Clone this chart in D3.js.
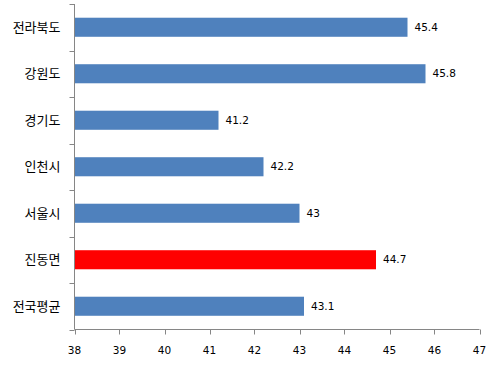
<!DOCTYPE html>
<html><head><meta charset="utf-8">
<script src="https://cdn.jsdelivr.net/npm/d3@7"></script>
<style>body{margin:0;background:#fff}svg{display:block}</style>
</head><body>
<script>
const categories = ["전라북도","강원도","경기도","인천시","서울시","진동면","전국평균"];
const values = [45.4,45.8,41.2,42.2,43,44.7,43.1];
const highlight = ["진동면"];
const xTicks = [38,39,40,41,42,43,44,45,46,47];

(function(){
const W=500,H=367;
const svg=d3.select("body").append("svg").attr("width",W).attr("height",H);
const mL=74.5, mR=479.5, mT=4, mB=329.5;
const x=d3.scaleLinear().domain([38,47]).range([mL,mR]);
const y=d3.scaleBand().domain(categories).range([mT,mB]).paddingInner(0.59).paddingOuter(0.295);
const yb=d3.scaleBand().domain(categories).range([mT,mB]);

svg.selectAll("rect.bar").data(categories).enter().append("rect")
 .attr("x",x(38)).attr("y",d=>y(d)).attr("height",y.bandwidth())
 .attr("width",(d,i)=>x(values[i])-x(38))
 .attr("fill",d=>highlight.includes(d)?"#FF0000":"#4F81BD");

svg.selectAll("text.val").data(categories).enter().append("text")
 .attr("x",(d,i)=>x(values[i])+7).attr("y",d=>y(d)+y.bandwidth()/2).attr("dy","0.35em")
 .attr("font-family","DejaVu Sans").attr("font-size",10.5).attr("fill","#000")
 .text((d,i)=>values[i]);

const gy=svg.append("g").attr("transform",`translate(${mL},0)`);
gy.append("line").attr("y1",mT).attr("y2",mB).attr("stroke","#868686");
const yTickPos=categories.map(c=>yb(c)).concat([mB]);
gy.selectAll("line.t").data(yTickPos).enter().append("line")
 .attr("x1",-5).attr("x2",0).attr("y1",d=>Math.round(d)+0.5).attr("y2",d=>Math.round(d)+0.5).attr("stroke","#868686");
gy.selectAll("text").data(categories).enter().append("text")
 .attr("x",-14).attr("y",d=>yb(d)+yb.bandwidth()/2).attr("dy","0.35em").attr("text-anchor","end")
 .attr("font-family","Noto Sans CJK KR").attr("font-size",13).attr("fill","#000").text(d=>d);

const gx=svg.append("g").attr("transform",`translate(0,${mB})`);
gx.append("line").attr("x1",mL).attr("x2",mR).attr("stroke","#868686");
gx.selectAll("line.t").data(xTicks).enter().append("line")
 .attr("x1",d=>Math.round(x(d))+0.5).attr("x2",d=>Math.round(x(d))+0.5).attr("y1",0).attr("y2",5).attr("stroke","#868686");
gx.selectAll("text").data(xTicks).enter().append("text")
 .attr("x",d=>x(d)).attr("y",21).attr("dy","0.35em").attr("text-anchor","middle")
 .attr("font-family","DejaVu Sans").attr("font-size",10.5).attr("fill","#000").text(d=>d);
})();
</script>
</body></html>
